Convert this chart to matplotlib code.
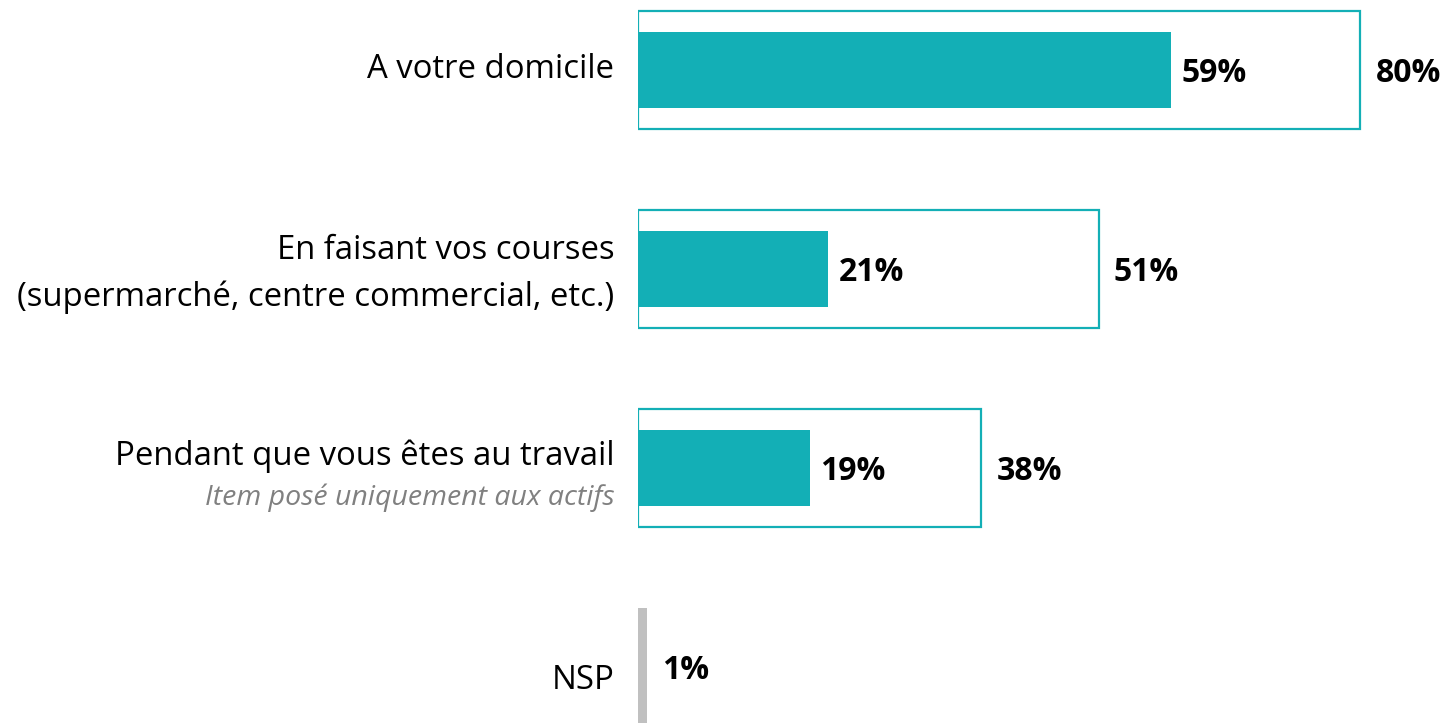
import matplotlib.pyplot as plt

plt.rcParams['font.family'] = ['Open Sans', 'DejaVu Sans']

categories = ["A votre domicile",
              "En faisant vos courses\n(supermarché, centre commercial, etc.)",
              "Pendant que vous êtes au travail",
              "NSP"]
notes = ["", "", "Item posé uniquement aux actifs", ""]
total = [80, 51, 38]
inner = [59, 21, 19]
nsp = 1

teal = "#13afb6"
grey = "#c0c0c0"

fig = plt.figure(figsize=(14.45, 7.23), dpi=100)
ax = fig.add_axes([638 / 1445, 0, 1 - 638 / 1445, 1])
ax.set_xlim(0, (1445 - 638) / 9.03)
ax.set_ylim(3 + 56 / 199, -70 / 199)
ax.axis("off")

rows = range(len(total))
ax.barh(rows, total, height=118 / 199, color="white", edgecolor=teal, linewidth=1.6)
ax.barh(rows, inner, height=76 / 199, color=teal, linewidth=0)
ax.barh(3, nsp, height=118 / 199, color=grey, linewidth=0)

for i in rows:
    ax.text(inner[i] + 1.2, i + 0.02, f"{inner[i]}%", ha="left", va="center",
            fontsize=23, fontweight="bold")
    ax.text(total[i] + 1.7, i + 0.02, f"{total[i]}%", ha="left", va="center",
            fontsize=23, fontweight="bold")
ax.text(nsp + 1.7, 3.02, f"{nsp}%", ha="left", va="center", fontsize=23, fontweight="bold")

for i, lab in enumerate(categories):
    y = i
    if "\n" in lab:
        y = i + 0.025
    if notes[i]:
        y = i - 0.06
    if lab == "NSP":
        y = i + 0.07
    ax.annotate(lab, xy=(0, y), xytext=(-17, 0), textcoords="offset points",
                ha="right", va="center", fontsize=23.7, linespacing=1.5,
                annotation_clip=False)
    if notes[i]:
        ax.annotate(notes[i], xy=(0, i + 0.15), xytext=(-17, 0), textcoords="offset points",
                    ha="right", va="center", fontsize=20.5, style="italic",
                    color="#808080", annotation_clip=False)

fig.savefig("out.png", dpi=100)
